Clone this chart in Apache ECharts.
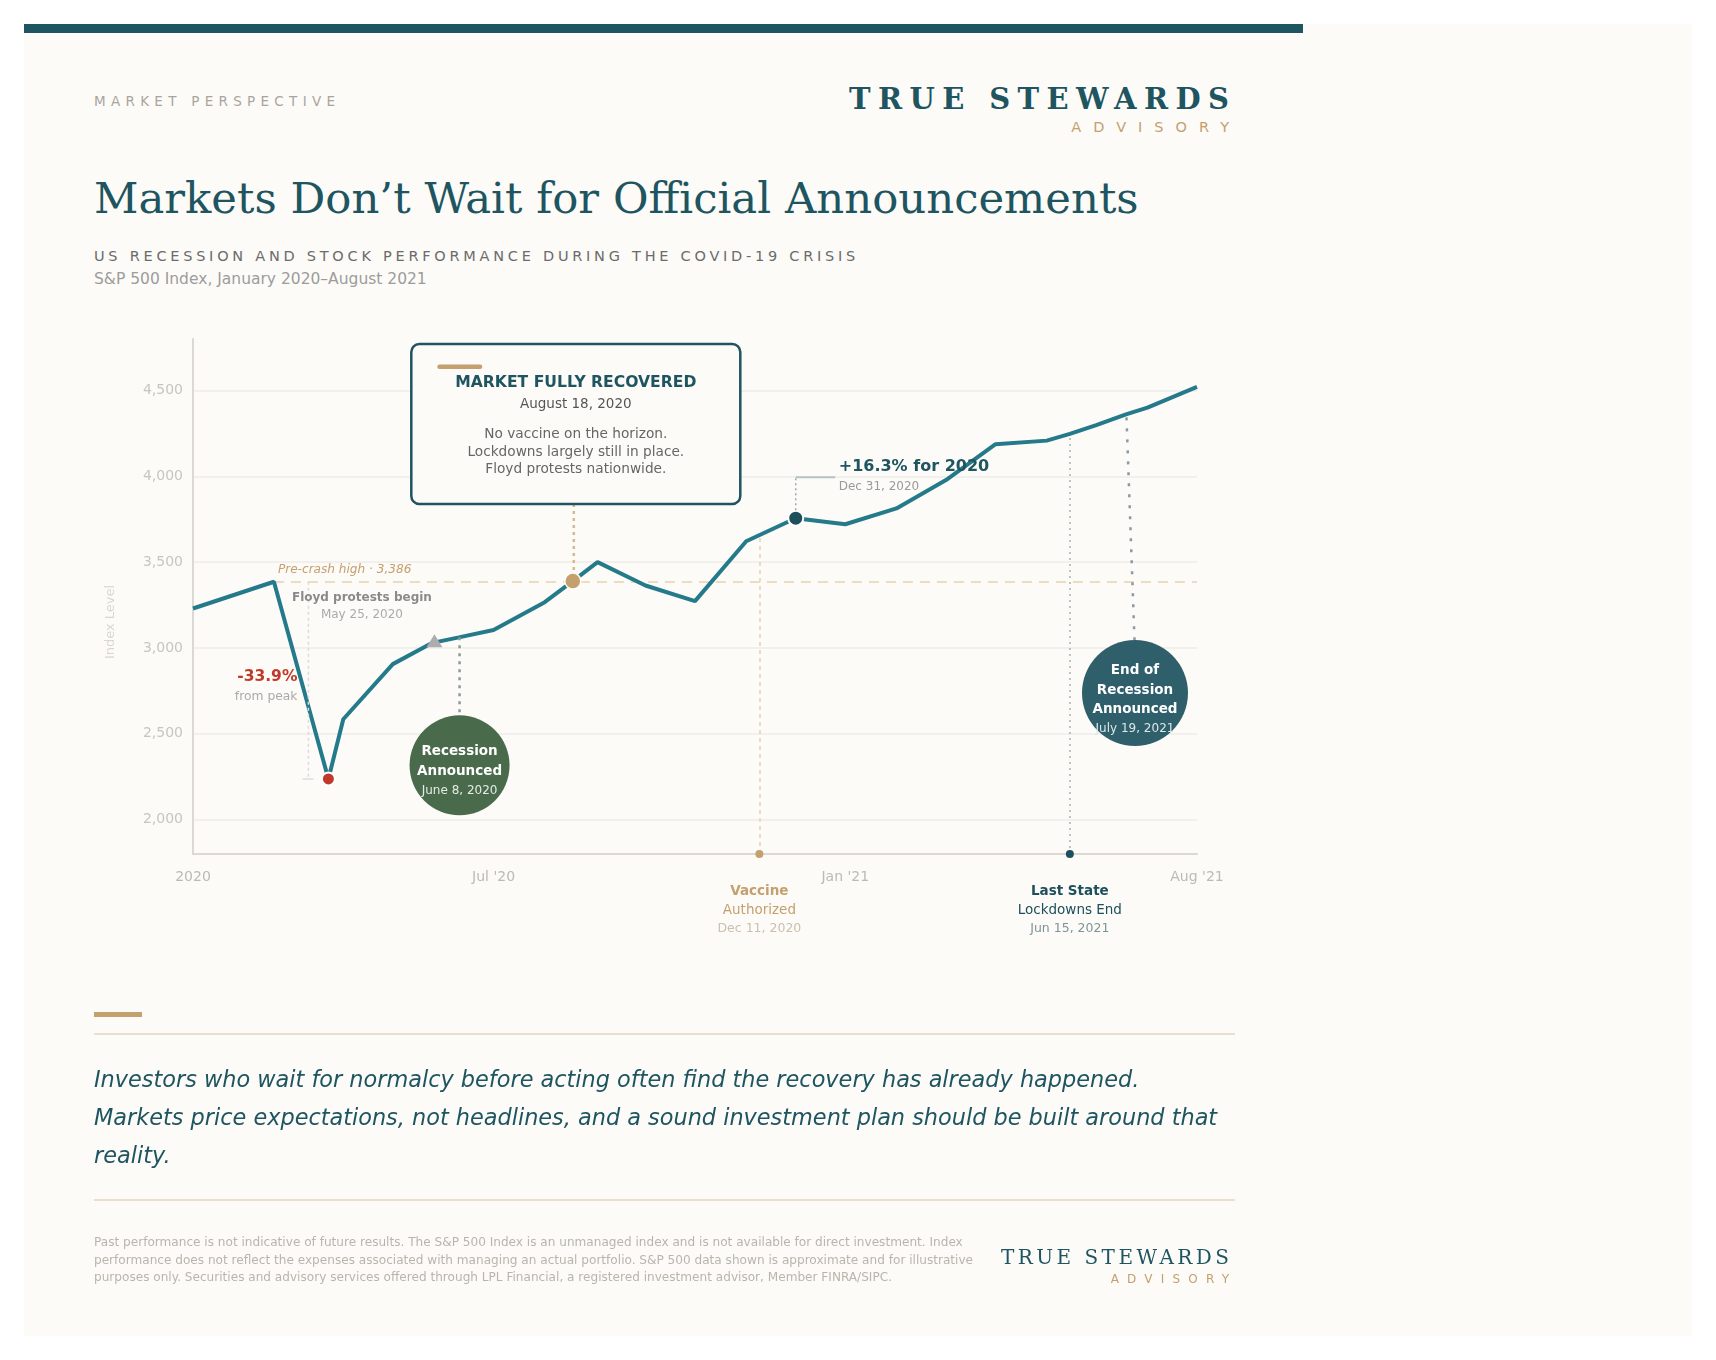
<!DOCTYPE html>
<html>
<head>
<meta charset="utf-8">
<title>Markets Don’t Wait for Official Announcements</title>
<script src="https://cdn.jsdelivr.net/npm/echarts@6/dist/echarts.min.js"></script>
<style>
  html, body { margin: 0; padding: 0; background: #ffffff; }
  body { width: 1716px; height: 1360px; position: relative; overflow: hidden; font-family: "DejaVu Sans", sans-serif; }
  #page { position: absolute; left: 24px; top: 24px; width: 1668px; height: 1312px; background: #fcfbf8; }
  #bar { position: absolute; left: 24px; top: 24px; width: 1279px; height: 9px; background: #1e5560; }
  .t { position: absolute; white-space: nowrap; line-height: 1; }
  .serif { font-family: "DejaVu Serif", serif; }
  #chart { position: absolute; left: 0; top: 0; width: 1716px; height: 1360px; }
</style>
</head>
<body>
<div id="page"></div>
<div id="bar"></div>

<div class="t" style="left:94px;top:94.5px;font-size:13.5px;letter-spacing:5.3px;color:#a9a59d;">MARKET PERSPECTIVE</div>
<div class="t serif" style="right:479.6px;top:84.5px;font-size:29px;letter-spacing:7.4px;font-weight:bold;color:#1e5560;">TRUE STEWARDS</div>
<div class="t" style="right:475px;top:120px;font-size:14.5px;letter-spacing:12px;color:#c4a06e;">ADVISORY</div>

<div class="t serif" style="left:94px;top:177px;font-size:43.4px;color:#1e5560;">Markets Don’t Wait for Official Announcements</div>
<div class="t" style="left:94px;top:248.5px;font-size:14.5px;letter-spacing:3.75px;color:#6b6b6b;">US RECESSION AND STOCK PERFORMANCE DURING THE COVID-19 CRISIS</div>
<div class="t" style="left:94px;top:272px;font-size:15.5px;color:#9c9c9c;">S&amp;P 500 Index, January 2020–August 2021</div>

<div id="chart"></div>

<div style="position:absolute;left:94px;top:1012px;width:48px;height:5px;background:#c4a06e;"></div>
<div style="position:absolute;left:94px;top:1033px;width:1141px;height:2px;background:#e8dfd0;"></div>
<div class="t" style="left:94px;top:1060px;font-size:22.4px;line-height:38px;font-style:italic;color:#1e5560;">Investors who wait for normalcy before acting often find the recovery has already happened.<br>Markets price expectations, not headlines, and a sound investment plan should be built around that<br>reality.</div>
<div style="position:absolute;left:94px;top:1198.5px;width:1141px;height:2px;background:#e8dfd0;"></div>

<div class="t" style="left:94px;top:1234px;font-size:12.1px;line-height:17.5px;color:#b9b5ad;">Past performance is not indicative of future results. The S&amp;P 500 Index is an unmanaged index and is not available for direct investment. Index<br>performance does not reflect the expenses associated with managing an actual portfolio. S&amp;P 500 data shown is approximate and for illustrative<br>purposes only. Securities and advisory services offered through LPL Financial, a registered investment advisor, Member FINRA/SIPC.</div>
<div class="t serif" style="right:483.5px;top:1246.5px;font-size:20px;letter-spacing:3.45px;color:#1e5560;">TRUE STEWARDS</div>
<div class="t" style="right:478.8px;top:1273px;font-size:12px;letter-spacing:8.2px;color:#c4a06e;">ADVISORY</div>

<script>
// S&P 500 path
const lineDates = ['2020-01-01', '2020-02-19', '2020-03-23', '2020-04-01', '2020-05-01', '2020-05-25',
  '2020-06-10', '2020-07-01', '2020-08-01', '2020-08-18', '2020-09-02', '2020-10-01', '2020-10-31',
  '2020-12-01', '2020-12-31', '2021-01-30', '2021-03-02', '2021-04-01', '2021-05-01', '2021-06-01',
  '2021-06-15', '2021-07-01', '2021-07-19', '2021-08-01', '2021-08-31'];
const lineValues = [3230, 3386, 2237, 2585, 2906, 3030,
  3062, 3105, 3267, 3390, 3500, 3364, 3273,
  3622, 3756, 3721, 3813, 3978, 4187, 4208,
  4247, 4298, 4361, 4400, 4521];

const xTickDates = ['2020-01-01', '2020-07-01', '2021-01-30', '2021-08-31'];
const xTickLabels = ['2020', "Jul '20", "Jan '21", "Aug '21"];
const yTickValues = [2000, 2500, 3000, 3500, 4000, 4500];

const axisStart = '2020-01-01';
const axisEnd = '2021-08-31';
const preCrashHigh = 3386;
const vaccineDate = '2020-12-09';
const vaccineLevel = 3665;
const lastStateDate = '2021-06-15';

// indexes into the line for the annotated points
const peakIdx = 1, troughIdx = 2, floydIdx = 5, recessionIdx = 6, recoveryIdx = 9,
  yearEndIdx = 14, lastStateIdx = 20, endRecessionIdx = 22;

const ts = d => Date.parse(d + 'T00:00:00Z');
const yMin = 1800, yMax = 4800;

const chart = echarts.init(document.getElementById('chart'));
const fam = '"DejaVu Sans", sans-serif';

const linePoints = lineDates.map((d, i) => [ts(d), lineValues[i]]);
const pt = i => [ts(lineDates[i]), lineValues[i]];
const xTickTimes = xTickDates.map(ts);

const option = {
  animation: false,
  grid: { left: 193, top: 339, right: 519, bottom: 506 },
  xAxis: {
    type: 'value',
    min: ts(axisStart),
    max: ts(axisEnd),
    axisLine: { lineStyle: { color: '#dcd9d4', width: 2 } },
    axisTick: { show: false, customValues: xTickTimes },
    splitLine: { show: false },
    axisLabel: {
      customValues: xTickTimes,
      color: '#bdbab5',
      fontSize: 14,
      fontFamily: fam,
      margin: 16,
      formatter: function (val) {
        let best = 0, dist = Infinity;
        xTickTimes.forEach((t, i) => {
          const dd = Math.abs(t - val);
          if (dd < dist) { dist = dd; best = i; }
        });
        return xTickLabels[best];
      }
    }
  },
  yAxis: {
    type: 'value',
    min: yMin,
    max: yMax,
    axisLine: { show: true, lineStyle: { color: '#dcd9d4', width: 2 } },
    axisTick: { show: false, customValues: yTickValues },
    splitLine: { show: true, lineStyle: { color: '#eeece8', width: 1.5 } },
    axisLabel: {
      customValues: yTickValues,
      color: '#c8c5c0',
      fontSize: 14,
      fontFamily: fam,
      margin: 10,
      formatter: v => v.toLocaleString('en-US')
    }
  },
  series: [
    {
      name: 'guides',
      type: 'line',
      data: [],
      z: 1,
      silent: true,
      markLine: {
        z: 1,
        symbol: 'none',
        silent: true,
        label: { show: false },
        data: [
          [{ coord: [ts(lineDates[peakIdx]), preCrashHigh], lineStyle: { color: '#ecdcc3', width: 2, type: [10, 7] } },
           { coord: [ts(axisEnd), preCrashHigh] }],
          [{ coord: [ts(vaccineDate), yMin], lineStyle: { color: '#e2d3ba', width: 1.5, type: [4, 4] } },
           { coord: [ts(vaccineDate), vaccineLevel] }],
          [{ coord: [ts(lastStateDate), yMin], lineStyle: { color: '#a6b2b5', width: 1.5, type: [2, 4] } },
           { coord: [ts(lastStateDate), lineValues[lastStateIdx]] }]
        ]
      }
    },
    {
      name: 'S&P 500',
      type: 'line',
      data: linePoints,
      z: 2,
      symbol: 'none',
      lineStyle: { color: '#247a8a', width: 4 }
    },
    {
      name: 'events',
      type: 'scatter',
      z: 3,
      clip: false,
      silent: true,
      itemStyle: { opacity: 1 },
      data: [
        { value: pt(troughIdx), symbolSize: 13, itemStyle: { color: '#c0392b', borderColor: '#ffffff', borderWidth: 2 } },
        { value: pt(floydIdx), symbol: 'triangle', symbolSize: [16, 13], symbolOffset: [2, -2], itemStyle: { color: '#adadad' } },
        { value: pt(recoveryIdx), symbolSize: 16, itemStyle: { color: '#c4a06e', borderColor: '#fcfbf8', borderWidth: 1.5 } },
        { value: pt(yearEndIdx), symbolSize: 15, itemStyle: { color: '#1e4f5c', borderColor: '#ffffff', borderWidth: 2 } },
        { value: [ts(vaccineDate), yMin], symbolSize: 8, itemStyle: { color: '#c4a06e' } },
        { value: [ts(lastStateDate), yMin], symbolSize: 8, itemStyle: { color: '#1e4f5c' } }
      ]
    }
  ]
};
chart.setOption(option);

// annotations, anchored to the data points through the axes
const px = p => chart.convertToPixel({ gridIndex: 0 }, p);

function label(x, y, text, size, color, o) {
  o = o || {};
  const a = o.align || 'center';
  return {
    type: 'text', x: x, y: y, silent: true, z: 10,
    rotation: o.rotation || 0,
    style: {
      text: text, fill: color,
      font: (o.italic ? 'italic ' : '') + (o.bold ? 'bold ' : '') + size + 'px ' + fam,
      align: a, verticalAlign: 'middle', textAlign: a, textVerticalAlign: 'middle'
    }
  };
}
function seg(x1, y1, x2, y2, color, width, dash) {
  return {
    type: 'line', silent: true, z: 5,
    shape: { x1: x1, y1: y1, x2: x2, y2: y2 },
    style: { stroke: color, lineWidth: width, lineDash: dash || null }
  };
}

const P = px(pt(peakIdx));
const T = px(pt(troughIdx));
const R = px(pt(recessionIdx));
const A = px(pt(recoveryIdx));
const Y = px(pt(yearEndIdx));
const E = px(pt(endRecessionIdx));
const V = px([ts(vaccineDate), yMin]);
const L = px([ts(lastStateDate), yMin]);

const drop = ((lineValues[troughIdx] / preCrashHigh - 1) * 100).toFixed(1);
const gain = ((lineValues[yearEndIdx] / lineValues[0] - 1) * 100).toFixed(1);

const g = [];

// axis title
g.push(label(110.5, 622, 'Index Level', 13, '#dad7d1', { rotation: Math.PI / 2 }));

// pre-crash and drop
g.push(label(P[0] + 4, P[1] - 12, 'Pre-crash high · ' + preCrashHigh.toLocaleString('en-US'), 12.1, '#c4a06e', { italic: true, align: 'left' }));
const bx = P[0] + 34.5;
g.push(seg(bx, P[1], bx, T[1], '#dcdcdc', 1.5, [3, 3]));
g.push(seg(bx - 6, T[1], bx + 5, T[1], '#dcdcdc', 1.5));
g.push(label(T[0] - 31, T[1] - 102, drop + '%', 15.5, '#c0392b', { bold: true, align: 'right' }));
g.push(label(T[0] - 31, T[1] - 82, 'from peak', 12.3, '#aaaaaa', { align: 'right' }));

// Floyd
g.push(label(P[0] + 88, P[1] + 16, 'Floyd protests begin', 12, '#8a8a8a', { bold: true }));
g.push(label(P[0] + 88, P[1] + 33, 'May 25, 2020', 12, '#aaaaaa'));

// recession announced
const rc = [R[0] + 0.7, R[1] + 128];
g.push(seg(rc[0], R[1], rc[0], rc[1] - 50, '#8c9b97', 2.5, [3, 5]));
g.push({ type: 'circle', silent: true, z: 6, shape: { cx: rc[0], cy: rc[1], r: 50 }, style: { fill: '#4a6b4b' } });
g.push(label(rc[0], rc[1] - 13.5, 'Recession', 13.5, '#ffffff', { bold: true }));
g.push(label(rc[0], rc[1] + 6.5, 'Announced', 13.5, '#ffffff', { bold: true }));
g.push(label(rc[0], rc[1] + 26, 'June 8, 2020', 12, '#e4ebe4'));

// market fully recovered box
const boxX = A[0] - 161.5, boxY = 344, boxW = 329, boxH = 160;
const cx = boxX + boxW / 2;
g.push(seg(A[0] + 1, boxY + boxH, A[0] + 1, A[1] - 8, '#d6b98f', 2.5, [3, 4]));
g.push({ type: 'rect', silent: true, z: 6, shape: { x: boxX, y: boxY, width: boxW, height: boxH, r: 8 },
  style: { fill: '#fcfbf8', stroke: '#1e5560', lineWidth: 2.5 } });
g.push({ type: 'rect', silent: true, z: 7, shape: { x: boxX + 26, y: boxY + 20.5, width: 45, height: 4.5, r: 2.25 },
  style: { fill: '#c4a06e' } });
g.push(label(cx, boxY + 39, 'MARKET FULLY RECOVERED', 15.6, '#1e5560', { bold: true }));
g.push(label(cx, boxY + 60.5, 'August 18, 2020', 13.5, '#555555'));
g.push(seg(boxX + 26, boxY + 75, boxX + 307, boxY + 75, '#e8e5e0', 1));
g.push(label(cx, boxY + 90.5, 'No vaccine on the horizon.', 13.7, '#666666'));
g.push(label(cx, boxY + 108, 'Lockdowns largely still in place.', 13.7, '#666666'));
g.push(label(cx, boxY + 125.5, 'Floyd protests nationwide.', 13.7, '#666666'));

// year end
const hy = Y[1] - 41;
g.push(seg(Y[0], Y[1] - 8, Y[0], hy, '#9aabb0', 1.5, [2, 3]));
g.push(seg(Y[0], hy, Y[0] + 39.5, hy, '#b5c3c7', 2));
g.push(label(Y[0] + 43, Y[1] - 51.7, '+' + gain + '% for 2020', 16, '#1e5560', { bold: true, align: 'left' }));
g.push(label(Y[0] + 43, Y[1] - 31, 'Dec 31, 2020', 12, '#9a9a9a', { align: 'left' }));

// end of recession
const ec = [E[0] + 9, 693];
g.push(seg(E[0] + 0.5, E[1] + 3, ec[0] - 0.5, ec[1] - 53, '#8a9aa0', 2.5, [3, 8]));
g.push({ type: 'circle', silent: true, z: 6, shape: { cx: ec[0], cy: ec[1], r: 53 }, style: { fill: '#2e5f6b' } });
g.push(label(ec[0], ec[1] - 23, 'End of', 13.5, '#ffffff', { bold: true }));
g.push(label(ec[0], ec[1] - 3, 'Recession', 13.5, '#ffffff', { bold: true }));
g.push(label(ec[0], ec[1] + 16, 'Announced', 13.5, '#ffffff', { bold: true }));
g.push(label(ec[0], ec[1] + 36, 'July 19, 2021', 12, '#dce7e9'));

// bottom event labels
g.push(label(V[0], V[1] + 37, 'Vaccine', 13.5, '#c4a06e', { bold: true }));
g.push(label(V[0], V[1] + 56, 'Authorized', 13.5, '#c4a06e'));
g.push(label(V[0], V[1] + 74.5, 'Dec 11, 2020', 12.5, '#cbbfae'));
g.push(label(L[0], L[1] + 37, 'Last State', 13.5, '#1e4f5c', { bold: true }));
g.push(label(L[0], L[1] + 56, 'Lockdowns End', 13.5, '#1e4f5c'));
g.push(label(L[0], L[1] + 74.5, 'Jun 15, 2021', 12.5, '#7f939a'));

chart.setOption({ graphic: g });
</script>
</body>
</html>
